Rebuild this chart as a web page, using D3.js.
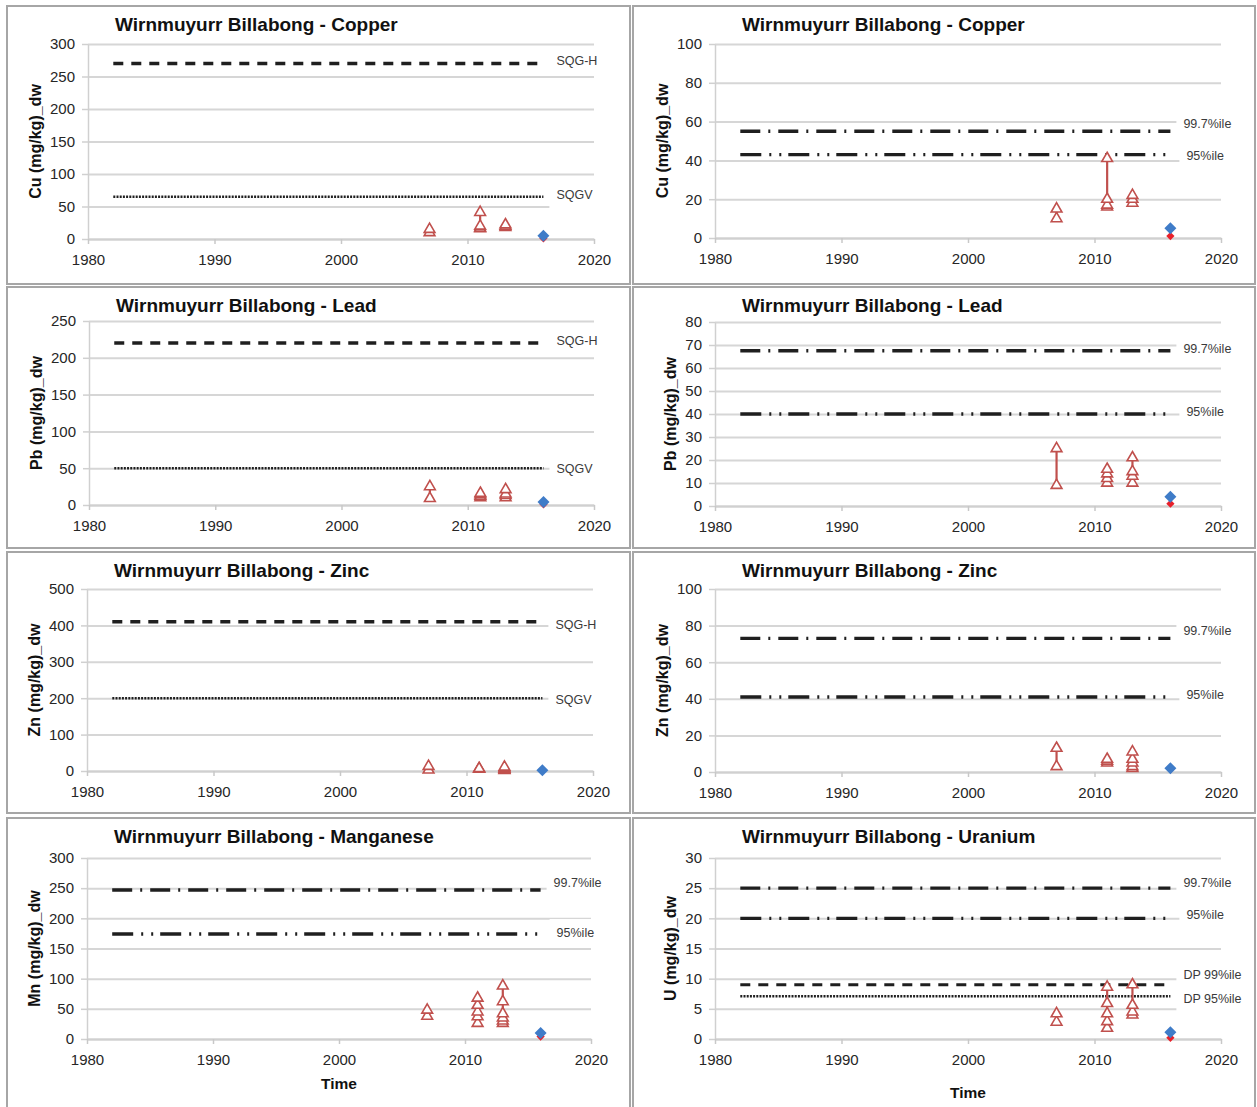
<!DOCTYPE html>
<html>
<head>
<meta charset="utf-8">
<script src="https://cdn.jsdelivr.net/npm/d3@7"></script>
<style>
  body { margin: 0; background: #fff; }
  svg { display: block; font-family: "Liberation Sans", Arial, sans-serif; }
</style>
</head>
<body>
<svg id="chart" width="1257" height="1107"></svg>
<script>
const site = "Wirnmuyurr Billabong";
const yearTicks = [1980, 1990, 2000, 2010, 2020];
const sampleYears = [2007, 2011, 2013];
const recentYear = 2016;
const guideSpan = [1982, 2016];

// sediment samples per year, mg/kg dry weight
const cuSamples = [[10, 15], [16, 17, 20, 41], [18, 20, 22]];
const pbSamples = [[9, 25], [10, 12, 14, 16], [10, 13, 15, 21]];
const znSamples = [[3, 13], [5, 6, 7], [2, 3, 5, 7, 11]];
const mnSamples = [[38, 48], [26, 37, 45, 56, 68], [26, 30, 35, 42, 62, 88]];
const uSamples = [[2.8, 4.2], [1.8, 2.9, 4.2, 5.9, 8.6], [4, 4.5, 5.6, 9]];

// 2016 values: [blue diamond, red point]
const cuRecent = [5, 1];
const pbRecent = [4, 1];
const znRecent = [2, 1.5];
const mnRecent = [10, 4];
const uRecent = [1.1, 0.2];

// guideline values
const sqgNames = ["SQG-H", "SQGV"];
const cuSqg = [270, 65];
const pbSqg = [220, 50];
const znSqg = [410, 200];
const pctNames = ["99.7%ile", "95%ile"];
const cuPct = [55, 43];
const pbPct = [67.5, 40];
const znPct = [73, 41];
const mnPct = [247, 174];
const uNames = ["99.7%ile", "95%ile", "DP 99%ile", "DP 95%ile"];
const uPct = [25, 20, 9, 7.1];

// y tick labels
const cuSqgTicks = [0, 50, 100, 150, 200, 250, 300];
const cuPctTicks = [0, 20, 40, 60, 80, 100];
const pbSqgTicks = [0, 50, 100, 150, 200, 250];
const pbPctTicks = [0, 10, 20, 30, 40, 50, 60, 70, 80];
const znSqgTicks = [0, 100, 200, 300, 400, 500];
const znPctTicks = [0, 20, 40, 60, 80, 100];
const mnTicks = [0, 50, 100, 150, 200, 250, 300];
const uTicks = [0, 5, 10, 15, 20, 25, 30];

const panels = [
  { metal: "Copper", yTitle: "Cu (mg/kg)_dw", ticks: cuSqgTicks, names: sqgNames, guides: cuSqg, samples: cuSamples, recent: cuRecent },
  { metal: "Copper", yTitle: "Cu (mg/kg)_dw", ticks: cuPctTicks, names: pctNames, guides: cuPct, samples: cuSamples, recent: cuRecent },
  { metal: "Lead", yTitle: "Pb (mg/kg)_dw", ticks: pbSqgTicks, names: sqgNames, guides: pbSqg, samples: pbSamples, recent: pbRecent },
  { metal: "Lead", yTitle: "Pb (mg/kg)_dw", ticks: pbPctTicks, names: pctNames, guides: pbPct, samples: pbSamples, recent: pbRecent },
  { metal: "Zinc", yTitle: "Zn (mg/kg)_dw", ticks: znSqgTicks, names: sqgNames, guides: znSqg, samples: znSamples, recent: znRecent },
  { metal: "Zinc", yTitle: "Zn (mg/kg)_dw", ticks: znPctTicks, names: pctNames, guides: znPct, samples: znSamples, recent: znRecent },
  { metal: "Manganese", yTitle: "Mn (mg/kg)_dw", ticks: mnTicks, names: pctNames, guides: mnPct, samples: mnSamples, recent: mnRecent },
  { metal: "Uranium", yTitle: "U (mg/kg)_dw", ticks: uTicks, names: uNames, guides: uPct, samples: uSamples, recent: uRecent }
];

// panel frames and plot areas: box [x0, y0, x1, y1], plot [left, right, top, bottom]
const layout = [
  { box: [7, 6, 630, 284], plot: [88, 594, 44, 239], labelDy: [-3, -2] },
  { box: [633, 6, 1255, 284], plot: [715, 1221, 44, 238], labelDy: [-8, 1] },
  { box: [7, 287, 630, 548], plot: [89, 594, 321, 505], labelDy: [-2, 0] },
  { box: [633, 287, 1255, 548], plot: [715, 1221, 322, 506], labelDy: [-2, -2] },
  { box: [7, 552, 630, 813], plot: [87, 593, 589, 771], labelDy: [3, 1] },
  { box: [633, 552, 1255, 813], plot: [715, 1221, 589, 772], labelDy: [-8, -2] },
  { box: [7, 818, 630, 1112], plot: [87, 591, 858, 1039], labelDy: [-7, -1], timeDy: 50 },
  { box: [633, 818, 1255, 1112], plot: [715, 1221, 858, 1039], labelDy: [-6, -4, -10, 2], timeDy: 59 }
];

const guideStyle = {
  "SQG-H": { dash: "10,8", width: 3.5 },
  "SQGV": { dash: "2,1.2", width: 2.5 },
  "99.7%ile": { dash: "20,8,2,8", width: 3.4 },
  "95%ile": { dash: "21,8,2,8,2,7", width: 3.4 },
  "DP 99%ile": { dash: "10,8", width: 3 },
  "DP 95%ile": { dash: "2,1.2", width: 2.5 }
};

const red = "#c0504d";
const svg = d3.select("#chart");

panels.forEach((p, i) => drawPanel(p, layout[i]));

function drawPanel(p, l) {
  const [left, right, top, bottom] = l.plot;
  const g = svg.append("g");

  g.append("rect")
    .attr("x", l.box[0]).attr("y", l.box[1])
    .attr("width", l.box[2] - l.box[0]).attr("height", l.box[3] - l.box[1])
    .attr("fill", "none").attr("stroke", "#a6a6a6").attr("stroke-width", 2);

  const x = d3.scaleLinear().domain([1980, 2020]).range([left, right]);
  const y = d3.scaleLinear().domain([0, d3.max(p.ticks)]).range([bottom, top]);

  // gridlines
  g.append("g")
    .attr("transform", `translate(${left},0)`)
    .call(d3.axisLeft(y).tickValues(p.ticks).tickSize(-(right - left)).tickFormat(""))
    .call(a => a.select(".domain").remove())
    .call(a => a.selectAll("line").attr("stroke", "#d6d6d6").attr("stroke-width", 2));

  // y axis
  g.append("g")
    .attr("transform", `translate(${left},0)`)
    .call(d3.axisLeft(y).tickValues(p.ticks).tickSize(6).tickSizeOuter(0).tickPadding(7))
    .call(a => a.select(".domain").attr("stroke", "#d0d0d0").attr("stroke-width", 1.5))
    .call(a => a.selectAll("line").attr("stroke", "#d0d0d0").attr("stroke-width", 1.5))
    .call(a => a.selectAll("text").attr("font-size", 15).attr("fill", "#262626").attr("font-family", null));

  // x axis
  g.append("g")
    .attr("transform", `translate(0,${bottom})`)
    .call(d3.axisBottom(x).tickValues(yearTicks).tickFormat(d3.format("d")).tickSize(5).tickSizeOuter(0).tickPadding(10))
    .call(a => a.select(".domain").attr("stroke", "#d0d0d0").attr("stroke-width", 2))
    .call(a => a.selectAll("line").attr("stroke", "#c8c8c8").attr("stroke-width", 1.5))
    .call(a => a.selectAll("text").attr("font-size", 15).attr("fill", "#262626").attr("font-family", null));

  // guideline lines
  p.guides.forEach((v, i) => {
    const s = guideStyle[p.names[i]];
    g.append("line")
      .attr("x1", x(guideSpan[0])).attr("x2", x(guideSpan[1]))
      .attr("y1", y(v)).attr("y2", y(v))
      .attr("stroke", "#1f1f1f").attr("stroke-width", s.width)
      .attr("stroke-dasharray", s.dash);
  });

  // guideline labels on white boxes
  p.guides.forEach((v, i) => {
    const name = p.names[i];
    const lx = x(recentYear) + 13 + (name === "95%ile" ? 3 : 0);
    const ly = y(v) + l.labelDy[i];
    const bg = g.append("rect").attr("fill", "#fff");
    const t = g.append("text")
      .attr("x", lx).attr("y", ly).attr("dy", "0.35em")
      .attr("font-size", 12.5).attr("fill", "#3a3a3a")
      .text(name);
    const w = t.node().getComputedTextLength();
    bg.attr("x", lx - 7).attr("y", ly - 14).attr("width", w + 11).attr("height", 28);
  });

  // high-low lines per sampling year
  g.append("g").selectAll("line")
    .data(p.samples)
    .join("line")
    .attr("x1", (d, i) => x(sampleYears[i])).attr("x2", (d, i) => x(sampleYears[i]))
    .attr("y1", d => y(d3.min(d))).attr("y2", d => y(d3.max(d)))
    .attr("stroke", red).attr("stroke-width", 2.2);

  // sample triangles
  const pts = p.samples.flatMap((vals, i) => vals.map(v => ({ year: sampleYears[i], v })));
  g.append("g").selectAll("path")
    .data(pts)
    .join("path")
    .attr("d", d3.symbol(d3.symbolTriangle, 50))
    .attr("transform", d => `translate(${x(d.year)},${y(d.v)})`)
    .attr("fill", "#fff").attr("stroke", red).attr("stroke-width", 1.6);

  // 2016 values
  g.append("path")
    .attr("d", d3.symbol(d3.symbolSquare, 34))
    .attr("transform", `translate(${x(recentYear)},${y(p.recent[1])}) rotate(45)`)
    .attr("fill", "#e8202a");
  g.append("path")
    .attr("d", d3.symbol(d3.symbolSquare, 72))
    .attr("transform", `translate(${x(recentYear)},${y(p.recent[0])}) rotate(45)`)
    .attr("fill", "#3f7cc8");

  // title
  g.append("text")
    .attr("x", left + 27).attr("y", l.box[1] + 25)
    .attr("font-size", 19).attr("font-weight", "bold").attr("fill", "#111")
    .text(`${site} - ${p.metal}`);

  // y axis title
  const maxChars = d3.max(p.ticks, d => String(d).length);
  const tx = left - (maxChars * 8.34 + 28);
  const ty = (top + bottom) / 2;
  g.append("text")
    .attr("transform", `translate(${tx},${ty}) rotate(-90)`)
    .attr("text-anchor", "middle").attr("dy", "0.35em")
    .attr("font-size", 16).attr("font-weight", "bold").attr("fill", "#111")
    .text(p.yTitle);

  // x axis title (bottom row only)
  if (l.timeDy) {
    g.append("text")
      .attr("x", (left + right) / 2).attr("y", bottom + l.timeDy)
      .attr("text-anchor", "middle")
      .attr("font-size", 15.5).attr("font-weight", "bold").attr("fill", "#111")
      .text("Time");
  }
}
</script>
</body>
</html>
